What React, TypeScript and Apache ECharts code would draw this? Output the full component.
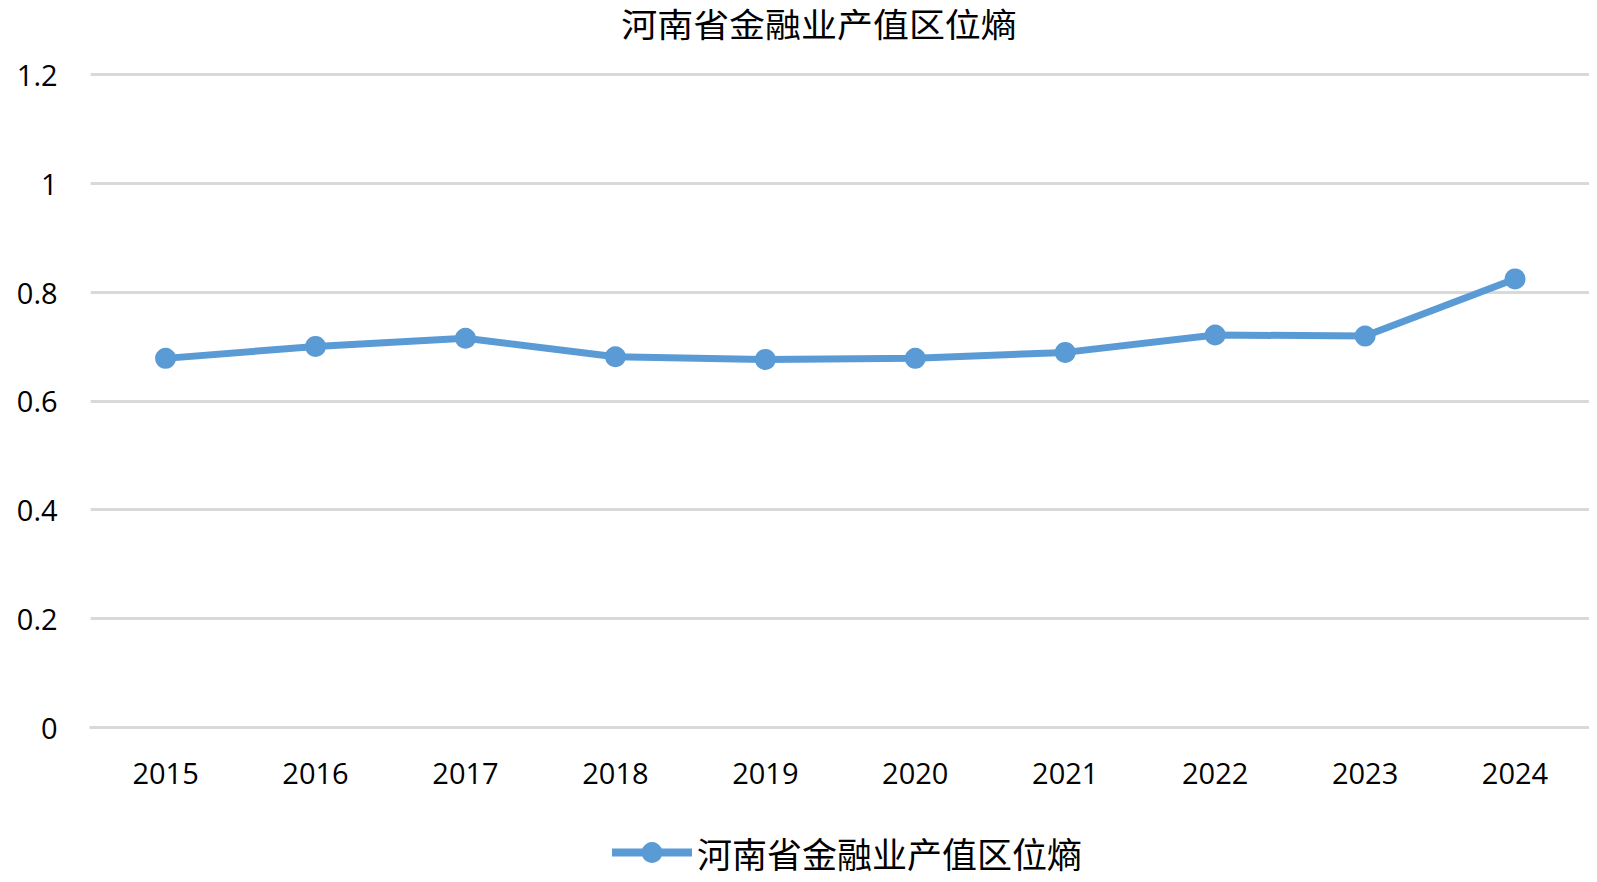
import React, { useEffect, useRef } from "react";
import * as echarts from "echarts";

const TITLE = "河南省金融业产值区位熵";
const categories = ["2015", "2016", "2017", "2018", "2019", "2020", "2021", "2022", "2023", "2024"];
const values = [0.678, 0.7, 0.715, 0.681, 0.676, 0.678, 0.689, 0.721, 0.719, 0.824];
const yTicks = [0, 0.2, 0.4, 0.6, 0.8, 1, 1.2];

export default function App() {
  const ref = useRef<HTMLDivElement>(null);
  useEffect(() => {
    if (!ref.current) return;
    const chart = echarts.init(ref.current, null, { renderer: "svg" });
    chart.setOption({
      animation: false,
      backgroundColor: "#fff",
      graphic: [
        {
          type: "text",
          x: 819,
          y: 23,
          scaleX: 1.09,
          style: {
            text: TITLE,
            fontSize: 33,
            fontFamily: "Noto Sans CJK SC",
            fill: "#000",
            align: "center",
            verticalAlign: "middle",
          },
        },
      ],
      legend: {
        show: true,
        left: 603,
        top: 830,
        itemWidth: 80,
        itemHeight: 26,
        itemGap: 10,
        lineStyle: { width: 8 },
        textStyle: {
          fontSize: 35,
          fontFamily: "Noto Sans CJK SC",
          color: "#000",
          padding: [0, 0, 0, 0],
        },
        data: [TITLE],
      },
      grid: { left: 90.6, right: 7, top: 74.4, bottom: 154.8, containLabel: false },
      xAxis: {
        type: "category",
        data: categories,
        boundaryGap: true,
        axisLine: { show: true, lineStyle: { color: "#d9d9d9", width: 3 } },
        axisTick: { show: false },
        axisLabel: {
          margin: 31,
          fontSize: 29,
          fontFamily: "Open Sans",
          color: "#000",
        },
      },
      yAxis: {
        type: "value",
        min: 0,
        max: 1.2,
        interval: 0.2,
        axisLine: { show: false },
        axisTick: { show: false },
        splitLine: { show: true, lineStyle: { color: "#d9d9d9", width: 3 } },
        axisLabel: {
          margin: 33,
          fontSize: 29,
          fontFamily: "Open Sans",
          color: "#000",
          formatter: (v: number) => {
            const t = yTicks.find((x) => Math.abs(x - v) < 1e-9);
            return String(t !== undefined ? t : v);
          },
        },
      },
      series: [
        {
          name: TITLE,
          type: "line",
          data: values,
          symbol: "circle",
          symbolSize: 21,
          color: "#5b9bd5",
          lineStyle: { color: "#5b9bd5", width: 7 },
          itemStyle: { color: "#5b9bd5" },
        },
      ],
    });
    return () => chart.dispose();
  }, []);
  return <div ref={ref} style={{ width: 1597, height: 882, margin: -8 }} />;
}
